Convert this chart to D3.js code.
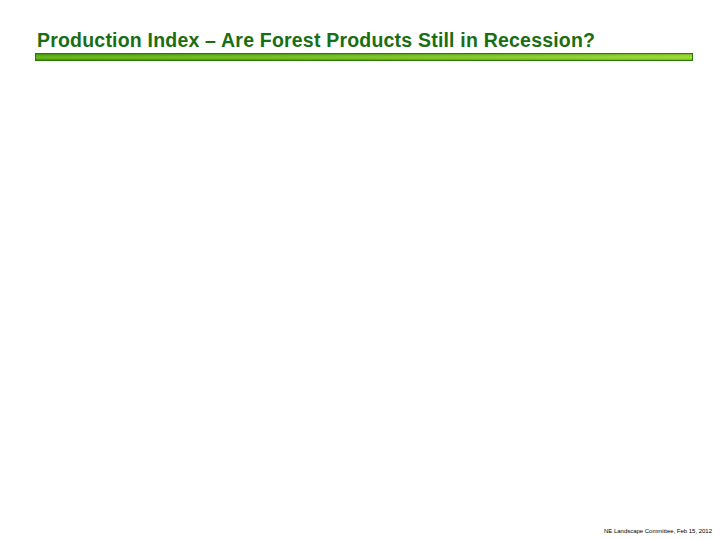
<!DOCTYPE html>
<html>
<head>
<meta charset="utf-8">
<script src="https://cdn.jsdelivr.net/npm/d3@7"></script>
<style>
  html, body { margin: 0; padding: 0; background: #ffffff; }
</style>
</head>
<body>
<script>
const titleText = ["Production Index – Are Forest Products Still in Recession?"];
const footerText = ["NE Landscape Committee, Feb 15, 2012"];
const barStops = [
  { offset: "0%", color: "#2f7f08" },
  { offset: "35%", color: "#74c61c" },
  { offset: "60%", color: "#86d424" },
  { offset: "100%", color: "#2f7f08" }
];

const W = 720, H = 540;
const svg = d3.select("body").append("svg")
  .attr("width", W).attr("height", H);

const defs = svg.append("defs");
const vg = defs.append("linearGradient")
  .attr("id", "barV").attr("x1", 0).attr("y1", 0).attr("x2", 0).attr("y2", 1);
vg.selectAll("stop").data(barStops).join("stop")
  .attr("offset", d => d.offset).attr("stop-color", d => d.color);

const hg = defs.append("linearGradient")
  .attr("id", "barH").attr("x1", 0).attr("y1", 0).attr("x2", 1).attr("y2", 0);
hg.append("stop").attr("offset", "0%").attr("stop-color", "#1f6a00").attr("stop-opacity", 0.25);
hg.append("stop").attr("offset", "100%").attr("stop-color", "#d8f060").attr("stop-opacity", 0.35);

svg.selectAll("text.title").data(titleText).join("text")
  .attr("class", "title")
  .attr("x", 37).attr("y", 46.5)
  .attr("font-family", "Liberation Sans, Arial, sans-serif")
  .attr("font-weight", "bold")
  .attr("font-size", 19.5)
  .attr("textLength", 558)
  .attr("lengthAdjust", "spacing")
  .attr("fill", "#1a6e12")
  .text(d => d);

const bx = 35, by = 53, bw = 658, bh = 8;
svg.append("rect").attr("x", bx).attr("y", by).attr("width", bw).attr("height", bh)
  .attr("fill", "url(#barV)");
svg.append("rect").attr("x", bx).attr("y", by).attr("width", bw).attr("height", bh)
  .attr("fill", "url(#barH)");
svg.append("rect").attr("x", bx + 0.5).attr("y", by + 0.5).attr("width", bw - 1).attr("height", bh - 1)
  .attr("fill", "none").attr("stroke", "#2b7a06").attr("stroke-width", 1);

svg.selectAll("text.footer").data(footerText).join("text")
  .attr("class", "footer")
  .attr("x", 712).attr("y", 533)
  .attr("text-anchor", "end")
  .attr("font-family", "Liberation Sans, Arial, sans-serif")
  .attr("font-size", 6)
  .attr("textLength", 108)
  .attr("lengthAdjust", "spacing")
  .attr("fill", "#000")
  .text(d => d);
</script>
</body>
</html>
